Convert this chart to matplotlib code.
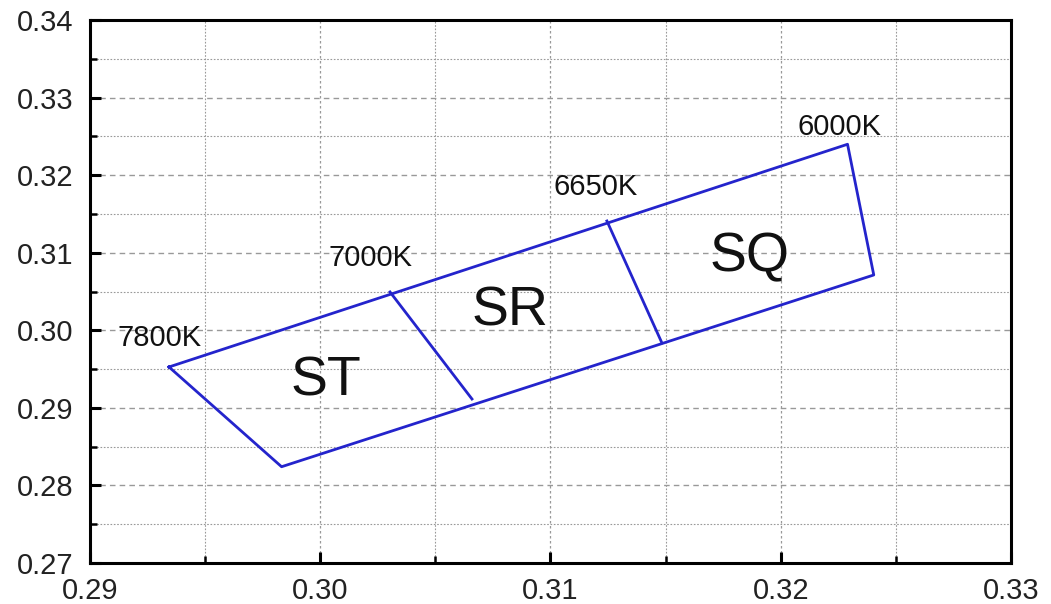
import numpy as np
import matplotlib.pyplot as plt
from matplotlib.ticker import MultipleLocator

plt.rcParams['font.family'] = ['Liberation Sans', 'DejaVu Sans']

# bin boundaries (CIE x, y)
top_x = [0.29343, 0.30303, 0.31245, 0.3229]
top_y = [0.29527, 0.30494, 0.31409, 0.32398]
bot_x = [0.29832, 0.30659, 0.31484, 0.32404]
bot_y = [0.28241, 0.29114, 0.29836, 0.30713]

cct_labels = ['7800K', '7000K', '6650K', '6000K']
cct_x = [0.29304, 0.30220, 0.31197, 0.32257]
cct_y = [0.2990, 0.30932, 0.31847, 0.32621]

bins = ['ST', 'SR', 'SQ']
bin_x = [0.30025, 0.30824, 0.31866]
bin_y = [0.29346, 0.30236, 0.30945]

fig = plt.figure(figsize=(10.51, 6.04), dpi=100)
ax = fig.add_axes([90 / 1051, 41 / 604, 921 / 1051, 543 / 604])

col = '#2424cc'
# outer polygon
ox = [top_x[0], top_x[-1], bot_x[-1], bot_x[0], top_x[0]]
oy = [top_y[0], top_y[-1], bot_y[-1], bot_y[0], top_y[0]]
ax.plot(ox, oy, color=col, lw=2.0)
# dividers
for i in range(1, len(top_x) - 1):
    ax.plot([top_x[i], bot_x[i]], [top_y[i], bot_y[i]], color=col, lw=2.0)

for t, x, y in zip(cct_labels, cct_x, cct_y):
    ax.text(x, y, t, ha='center', va='center', fontsize=21, color='#111111')
for t, x, y in zip(bins, bin_x, bin_y):
    ax.text(x, y, t, ha='center', va='center', fontsize=40, color='#111111')

ax.set_xlim(0.29, 0.33)
ax.set_ylim(0.27, 0.34)
ax.xaxis.set_major_locator(MultipleLocator(0.01))
ax.xaxis.set_minor_locator(MultipleLocator(0.005))
ax.yaxis.set_major_locator(MultipleLocator(0.01))
ax.yaxis.set_minor_locator(MultipleLocator(0.005))
ax.xaxis.set_major_formatter(plt.FormatStrFormatter('%.2f'))
ax.yaxis.set_major_formatter(plt.FormatStrFormatter('%.2f'))

ax.grid(axis='y', which='major', color='#999999', ls=(0, (4, 3)), lw=1.0)
ax.grid(axis='x', which='major', color='#999999', ls=(0, (2, 2)), lw=0.9)
ax.grid(which='minor', color='#999999', ls=(0, (1.5, 1.5)), lw=0.8)

ax.tick_params(which='major', direction='in', length=8, width=2.2,
               labelsize=21, labelcolor='#222222')
ax.tick_params(which='minor', direction='in', length=5, width=1.8)
ax.tick_params(axis='y', pad=12)
ax.tick_params(axis='x', pad=10)
for s in ax.spines.values():
    s.set_linewidth(2.2)

fig.savefig('out.png', dpi=100)
